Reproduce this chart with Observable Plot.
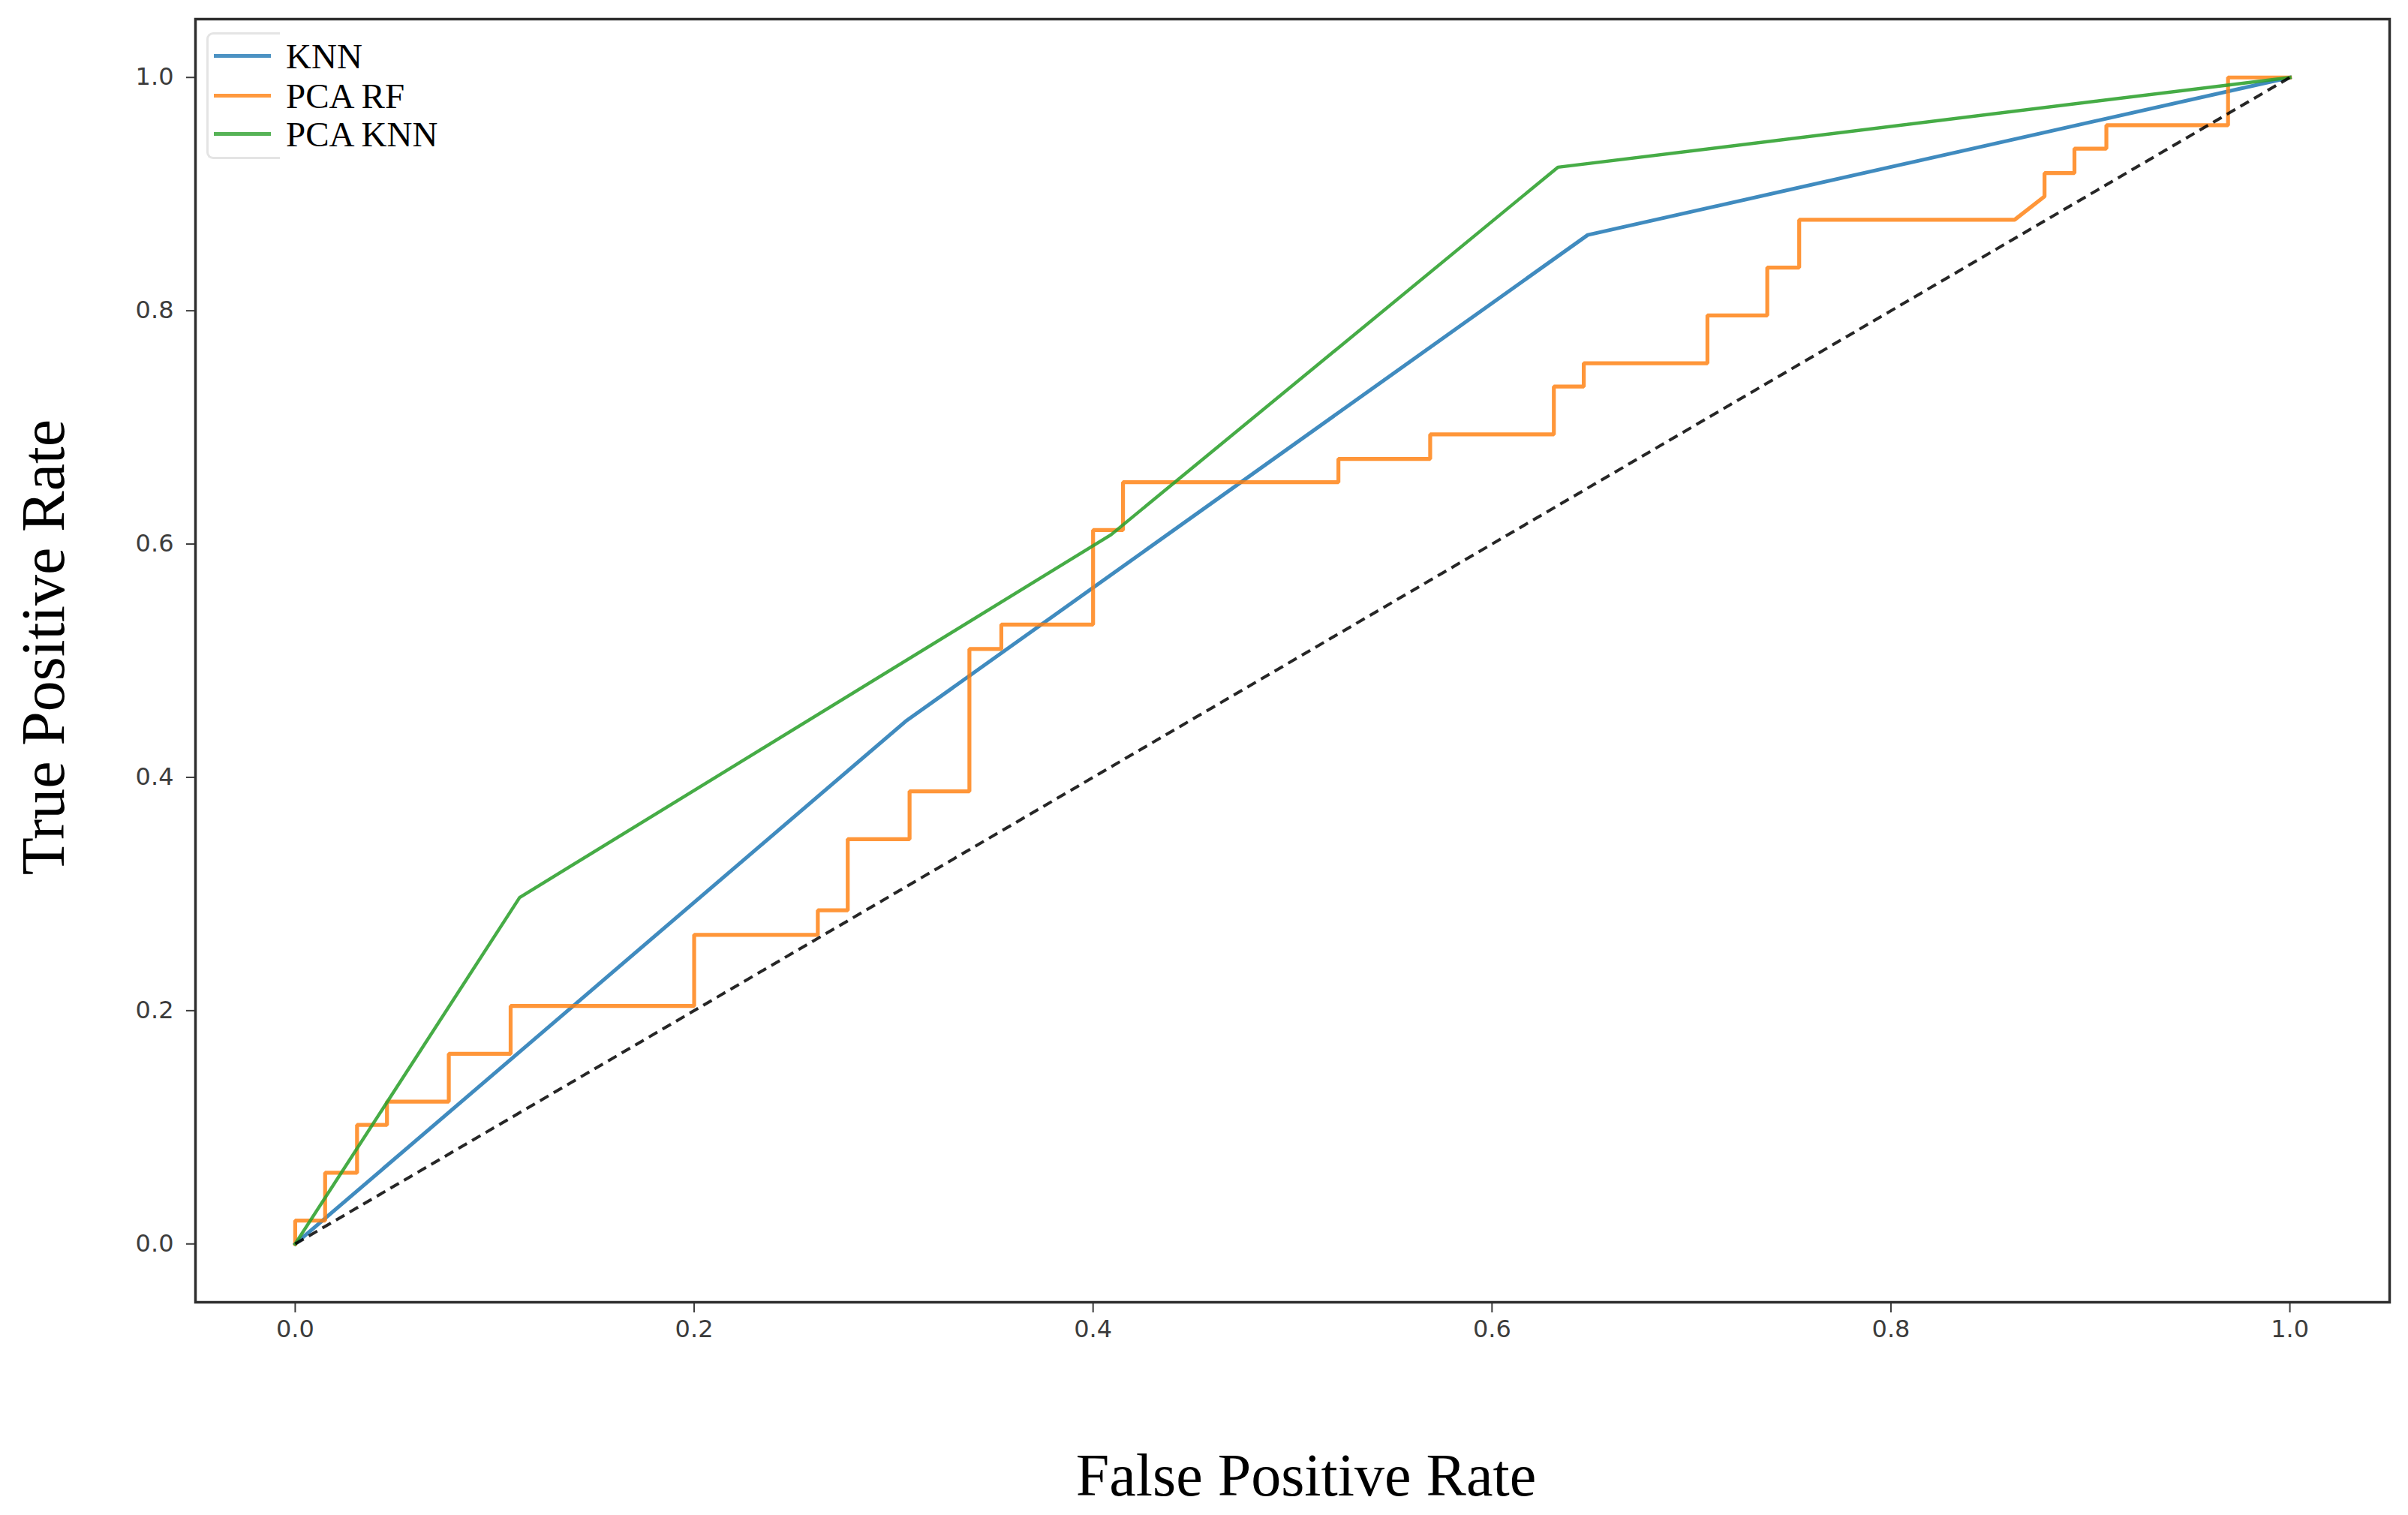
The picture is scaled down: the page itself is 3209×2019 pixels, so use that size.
<!DOCTYPE html>
<html>
<head>
<meta charset="utf-8">
<script src="https://cdn.jsdelivr.net/npm/d3@7"></script>
<script src="https://cdn.jsdelivr.net/npm/@observablehq/plot@0.6"></script>
<style>
  html, body { margin: 0; padding: 0; background: #fff; }
  #wrap { position: relative; width: 3209px; height: 2019px; }
  #legend {
    position: absolute; left: 275px; top: 43px; width: 95px; height: 163px;
    border: 3px solid #e4e4e4; border-right: none; border-radius: 9px 0 0 9px;
    font-family: "Liberation Serif", serif; font-size: 47px; color: #000;
  }
  .row { position: absolute; left: 0; white-space: nowrap; }
  .row .h { position: absolute; left: 7px; width: 76px; height: 5px; }
  .row .t { position: absolute; left: 103px; line-height: 1; }
</style>
</head>
<body>
<div id="wrap"><div id="chart"></div><div id="legend"></div></div>
<script>
// ---- data ----
const seriesNames = ["KNN", "PCA RF", "PCA KNN"];
const seriesColors = ["#1f77b4", "#ff7f0e", "#2ca02c"];

const knnFpr = [0, 0.306, 0.648, 1];
const knnTpr = [0, 0.448, 0.865, 1];

const pcaRfFpr = [0, 0, 0.015, 0.015, 0.031, 0.031, 0.046, 0.046, 0.077, 0.077, 0.108, 0.108,
  0.2, 0.2, 0.262, 0.262, 0.277, 0.277, 0.308, 0.308, 0.338, 0.338, 0.354, 0.354,
  0.4, 0.4, 0.415, 0.415, 0.523, 0.523, 0.569, 0.569, 0.631, 0.631, 0.646, 0.646,
  0.708, 0.708, 0.738, 0.738, 0.754, 0.754, 0.862, 0.877, 0.877, 0.892, 0.892,
  0.908, 0.908, 0.969, 0.969, 1];
const pcaRfTpr = [0, 0.020, 0.020, 0.061, 0.061, 0.102, 0.102, 0.122, 0.122, 0.163, 0.163, 0.204,
  0.204, 0.265, 0.265, 0.286, 0.286, 0.347, 0.347, 0.388, 0.388, 0.510, 0.510, 0.531,
  0.531, 0.612, 0.612, 0.653, 0.653, 0.673, 0.673, 0.694, 0.694, 0.735, 0.735, 0.755,
  0.755, 0.796, 0.796, 0.837, 0.837, 0.878, 0.878, 0.898, 0.918, 0.918, 0.939,
  0.939, 0.959, 0.959, 1, 1];

const pcaKnnFpr = [0, 0.1125, 0.409, 0.633, 1];
const pcaKnnTpr = [0, 0.297, 0.608, 0.923, 1];

const chanceFpr = [0, 1];
const chanceTpr = [0, 1];

const xTicks = [0, 0.2, 0.4, 0.6, 0.8, 1.0];
const yTicks = [0, 0.2, 0.4, 0.6, 0.8, 1.0];
const xLabel = "False Positive Rate";
const yLabel = "True Positive Rate";

// ---- build tables ----
const toRows = (xs, ys) => xs.map((x, i) => ({x, y: ys[i]}));
const knn = toRows(knnFpr, knnTpr);
const pcaRf = toRows(pcaRfFpr, pcaRfTpr);
const pcaKnn = toRows(pcaKnnFpr, pcaKnnTpr);
const chance = toRows(chanceFpr, chanceTpr);

const lineStyle = {x: "x", y: "y", strokeLinejoin: "miter", strokeLinecap: "square"};
const fmt = d3.format(".1f");

const chart = Plot.plot({
  width: 3209,
  height: 2019,
  marginLeft: 260,
  marginRight: 25,
  marginTop: 25,
  marginBottom: 284,
  x: {domain: [-0.05, 1.05]},
  y: {domain: [-0.05, 1.05]},
  style: {fontFamily: "DejaVu Sans", fontSize: "32px", color: "#3c3c3c", background: "#fff"},
  marks: [
    Plot.axisX({ticks: xTicks, tickFormat: fmt, tickSize: 14, tickPadding: 10, strokeWidth: 2, fontSize: 32, label: null}),
    Plot.axisY({ticks: yTicks, tickFormat: fmt, tickSize: 12, tickPadding: 17, strokeWidth: 2, fontSize: 32, label: null}),
    Plot.line(knn, {...lineStyle, stroke: seriesColors[0], strokeWidth: 5, strokeOpacity: 0.85}),
    Plot.line(pcaRf, {...lineStyle, stroke: seriesColors[1], strokeWidth: 5.2, strokeOpacity: 0.82}),
    Plot.line(pcaKnn, {...lineStyle, stroke: seriesColors[2], strokeWidth: 4.4, strokeOpacity: 0.88}),
    Plot.line(chance, {...lineStyle, stroke: "#000", strokeWidth: 4, strokeDasharray: "13,8", strokeLinecap: "butt", strokeOpacity: 0.85}),
    Plot.frame({stroke: "#2e2e2e", strokeWidth: 3.5}),
    Plot.text([xLabel], {text: d => d, frameAnchor: "bottom", dx: 18, dy: 232, lineAnchor: "middle", textAnchor: "middle",
      fontFamily: "Liberation Serif", fontSize: 80, fill: "#000"}),
    Plot.text([yLabel], {text: d => d, frameAnchor: "left", rotate: -90, dx: -202, dy: -18, lineAnchor: "middle", textAnchor: "middle",
      fontFamily: "Liberation Serif", fontSize: 82, fill: "#000"})
  ]
});
document.getElementById("chart").appendChild(chart);

// ---- legend ----
const legend = d3.select("#legend");
const rowTops = [26, 79, 130];
seriesNames.forEach((name, i) => {
  const row = legend.append("div").attr("class", "row").style("top", rowTops[i] + "px");
  row.append("div").attr("class", "h").style("background", seriesColors[i]).style("opacity", 0.8);
  row.append("div").attr("class", "t").style("top", "-20px").text(name);
});
</script>
</body>
</html>
